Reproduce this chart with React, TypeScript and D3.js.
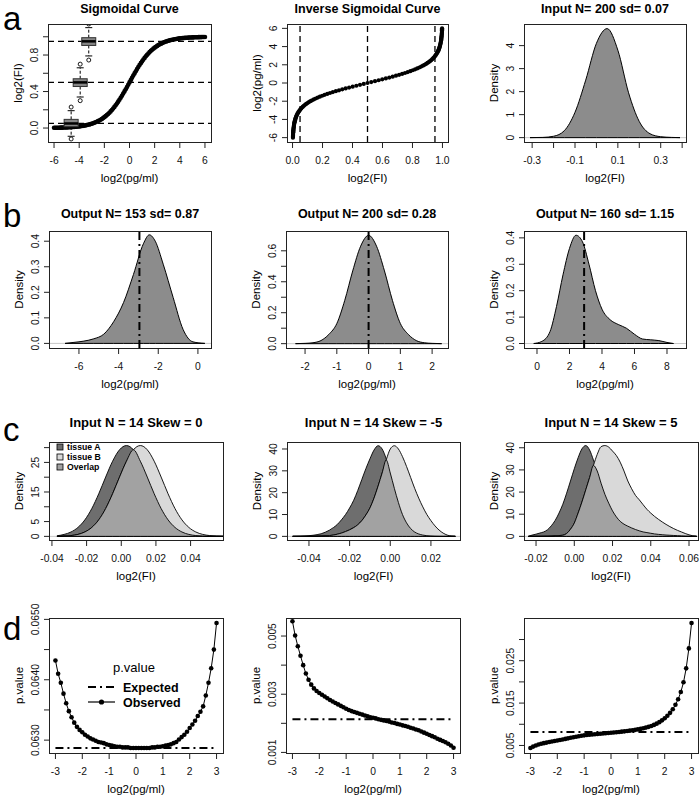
import React from "react";
import * as d3 from "d3";

const FONT = "'Liberation Sans', Arial, Helvetica, sans-serif";

// ---------- a: sigmoid standard curve ----------
const sigLog2 = d3.range(-60, 61).map((i) => i / 10);
const sigFI = [
  0.00247, 0.00273, 0.00302, 0.00334, 0.00368, 0.00407, 0.0045, 0.00497, 0.00549, 0.00606,
  0.00669, 0.00739, 0.00816, 0.00901, 0.00995, 0.01099, 0.01213, 0.01339, 0.01477, 0.0163,
  0.01799, 0.01984, 0.02188, 0.02413, 0.0266, 0.02931, 0.0323, 0.03557, 0.03917, 0.04311,
  0.04743, 0.05216, 0.05732, 0.06297, 0.06914, 0.07586, 0.08317, 0.09113, 0.09975, 0.1091,
  0.1192, 0.13011, 0.14185, 0.15447, 0.16798, 0.18243, 0.19782, 0.21417, 0.23148, 0.24974,
  0.26894, 0.28905, 0.31003, 0.33181, 0.35434, 0.37754, 0.40131, 0.42556, 0.45017, 0.47502,
  0.5,
  0.52498, 0.54983, 0.57444, 0.59869, 0.62246, 0.64566, 0.66819, 0.68997, 0.71095, 0.73106,
  0.75026, 0.76852, 0.78583, 0.80218, 0.81757, 0.83202, 0.84553, 0.85815, 0.86989, 0.8808,
  0.8909, 0.90025, 0.90887, 0.91683, 0.92414, 0.93086, 0.93703, 0.94268, 0.94784, 0.95257,
  0.95689, 0.96083, 0.96443, 0.9677, 0.97069, 0.9734, 0.97587, 0.97812, 0.98016, 0.98201,
  0.9837, 0.98523, 0.98661, 0.98787, 0.98901, 0.99005, 0.99099, 0.99184, 0.99261, 0.99331,
  0.99394, 0.99451, 0.99503, 0.9955, 0.99593, 0.99632, 0.99666, 0.99698, 0.99727, 0.99753,
];
const refFI = [0.05, 0.5, 0.95];

// boxplots drawn on the sigmoid panel
const boxX = [-4.64, -3.92, -3.24];
const boxQ1 = [0.015, 0.455, 0.905];
const boxMed = [0.05, 0.5, 0.95];
const boxQ3 = [0.095, 0.54, 0.99];
const whiskLo = [-0.09, 0.34, 0.79];
const whiskHi = [0.19, 0.66, 1.1];
const outLo = [-0.12, 0.3, 0.745];
const outHi = [0.23, 0.7, 1.14];

// input density
const a3X = [-0.31, -0.25, -0.2, -0.15, -0.1, -0.05, 0, 0.05, 0.1, 0.15, 0.2, 0.25, 0.3, 0.35, 0.39];
const a3Y = [0, 0.01, 0.06, 0.3, 1.1, 2.5, 4.1, 4.74, 3.8, 1.95, 0.7, 0.17, 0.04, 0.01, 0];

// ---------- b: output densities ----------
const b1X = [-6.7, -6.25, -5.75, -5.25, -4.75, -4.25, -3.75, -3.25, -2.75, -2.45, -2.15, -1.75, -1.25, -0.75, -0.25, 0.35];
const b1Y = [0, 0.004, 0.009, 0.018, 0.036, 0.085, 0.16, 0.27, 0.39, 0.425, 0.4, 0.31, 0.18, 0.055, 0.006, 0];
const b1Mark = -2.95;

const b2X = [-2.3, -2.0, -1.75, -1.5, -1.25, -1.0, -0.75, -0.5, -0.25, 0, 0.25, 0.5, 0.75, 1.0, 1.25, 1.5, 1.75, 2.0, 2.3];
const b2Y = [0, 0.002, 0.006, 0.02, 0.06, 0.13, 0.28, 0.47, 0.63, 0.7, 0.63, 0.47, 0.28, 0.13, 0.06, 0.02, 0.006, 0.002, 0];
const b2Mark = 0;

const b3X = [-0.2, 0.3, 0.8, 1.2, 1.6, 2.0, 2.4, 2.8, 3.2, 3.6, 4.0, 4.5, 5.0, 5.5, 6.0, 6.5, 7.0, 7.5, 8.0, 8.4];
const b3Y = [0, 0.008, 0.045, 0.14, 0.26, 0.36, 0.41, 0.385, 0.3, 0.2, 0.13, 0.09, 0.072, 0.058, 0.035, 0.017, 0.014, 0.011, 0.004, 0];
const b3Mark = 2.9;

// ---------- c: tissue A / B densities ----------
const c1X = d3.range(0, 25).map((i) => -0.037 + 0.004 * i);
const c1A = [0.2, 0.66, 1.48, 3.02, 5.58, 9.4, 14.4, 20.05, 25.4, 29.28, 30.7, 29.28, 25.4, 20.05, 14.4, 9.4, 5.58, 3.02, 1.48, 0.66, 0.27, 0.1, 0.03, 0.01, 0];
const c1B = [0.03, 0.1, 0.27, 0.66, 1.48, 3.02, 5.58, 9.4, 14.4, 20.05, 25.4, 29.28, 30.7, 29.28, 25.4, 20.05, 14.4, 9.4, 5.58, 3.02, 1.48, 0.66, 0.27, 0.1, 0.03];

const c2X = d3.range(0, 41).map((i) => -0.048 + 0.002 * i);
const c2A = [0.02, 0.05, 0.1, 0.2, 0.32, 0.5, 0.8, 1.2, 1.9, 2.8, 4.0, 5.5, 7.6, 10.0, 13.0, 16.5, 21.0, 26.0, 31.0, 35.5, 39.5, 41.5, 40.0, 35.5, 29.0, 22.0, 15.5, 10.0, 6.2, 3.6, 2.0, 1.1, 0.6, 0.3, 0.15, 0.05, 0.02, 0.01, 0, 0, 0];
const c2B = [0, 0, 0, 0.01, 0.02, 0.05, 0.09, 0.14, 0.2, 0.35, 0.6, 1.0, 1.5, 2.2, 3.0, 4.0, 5.3, 7.2, 9.8, 13.0, 17.5, 23.0, 29.0, 35.0, 40.0, 41.5, 40.0, 36.5, 32.0, 27.0, 22.0, 17.5, 13.5, 10.0, 7.2, 4.8, 2.9, 1.5, 0.6, 0.15, 0];

const c3X = d3.range(0, 45).map((i) => -0.024 + 0.002 * i);
const c3A = [0, 0.6, 1.0, 1.5, 2.0, 3.0, 4.8, 7.2, 10.5, 14.5, 19.5, 25.0, 30.5, 35.5, 39.5, 41.0, 39.0, 34.5, 29.5, 24.0, 19.0, 15.0, 11.5, 8.8, 6.8, 5.5, 4.6, 3.8, 3.1, 2.5, 2.0, 1.7, 1.4, 1.1, 0.9, 0.75, 0.6, 0.5, 0.4, 0.3, 0.2, 0.1, 0.05, 0, 0];
const c3B = [0, 0, 0, 0, 0.02, 0.05, 0.1, 0.2, 0.35, 0.5, 1.3, 3.2, 6.0, 10.5, 15.5, 21.0, 26.5, 32.0, 37.0, 40.5, 41.0, 40.3, 38.5, 36.5, 33.5, 29.5, 25.0, 21.5, 18.5, 16.5, 14.3, 12.2, 10.5, 9.0, 7.7, 6.5, 5.4, 4.4, 3.5, 2.7, 2.0, 1.3, 0.7, 0.25, 0];

const legendLabels = ["tissue A", "tissue B", "Overlap"];
const legendFills = ["#6e6e6e", "#d9d9d9", "#a2a2a2"];

// ---------- d: p-values ----------
const dX = d3.range(-30, 31).map((i) => i / 10);
const d1P = [
  0.06432, 0.0641, 0.06395, 0.06377, 0.06361, 0.06348, 0.06338, 0.06329, 0.06322, 0.06317,
  0.06313, 0.06309, 0.06306, 0.06303, 0.06301, 0.06299, 0.06297, 0.06296, 0.06295, 0.06293,
  0.06292, 0.06291, 0.0629, 0.06289, 0.06289, 0.06288, 0.06288, 0.06288, 0.06287, 0.06287,
  0.06287,
  0.06287, 0.06287, 0.06287, 0.06287, 0.06287, 0.06288, 0.06288, 0.06289, 0.06289, 0.0629,
  0.06291, 0.06292, 0.06293, 0.06295, 0.06297, 0.06301, 0.06305, 0.06309, 0.06314, 0.0632,
  0.06326, 0.06332, 0.0634, 0.06347, 0.06356, 0.06374, 0.06395, 0.06419, 0.0645, 0.06494,
];
const d2P = [
  0.00551, 0.00502, 0.00465, 0.00432, 0.004, 0.00371, 0.0035, 0.00333, 0.0032, 0.00311,
  0.00304, 0.00298, 0.00292, 0.00286, 0.0028, 0.00275, 0.0027, 0.00265, 0.0026, 0.00255,
  0.0025, 0.00246, 0.00242, 0.00239, 0.00236, 0.00233, 0.0023, 0.00227, 0.00224, 0.00221,
  0.00219,
  0.00217, 0.00214, 0.00212, 0.0021, 0.00208, 0.00206, 0.00203, 0.00201, 0.00198, 0.00196,
  0.00193, 0.00191, 0.00188, 0.00185, 0.00182, 0.00179, 0.00176, 0.00172, 0.00168, 0.00164,
  0.0016, 0.00156, 0.00152, 0.00147, 0.00143, 0.00139, 0.00135, 0.0013, 0.00124, 0.00116,
];
const d3P = [
  0.0044, 0.00473, 0.005, 0.00522, 0.0054, 0.00555, 0.00568, 0.0058, 0.00592, 0.00604,
  0.00616, 0.00629, 0.00642, 0.00655, 0.00668, 0.00681, 0.00693, 0.00705, 0.00717, 0.00728,
  0.00738, 0.00746, 0.00753, 0.00759, 0.00765, 0.00771, 0.00777, 0.00783, 0.00789, 0.00795,
  0.00801,
  0.00807, 0.00813, 0.00819, 0.00826, 0.00833, 0.00841, 0.00849, 0.00858, 0.00868, 0.00879,
  0.00891, 0.00905, 0.00921, 0.00939, 0.0096, 0.00985, 0.01015, 0.0105, 0.01092, 0.01142,
  0.012, 0.0127, 0.01355, 0.0146, 0.0159, 0.0176, 0.0199, 0.0232, 0.0279, 0.0339,
];
const expRange = [-3, 3];
const d1Exp = 0.06287;
const d2Exp = 0.00214;
const d3Exp = 0.00818;

// ---------- helpers ----------
type Scale = d3.ScaleLinear<number, number>;
const fix = (n: number) => (v: number) => (Math.abs(v) < 1e-12 ? 0 : v).toFixed(n);
const has = (arr: number[], v: number) => arr.some((a) => Math.abs(a - v) < 1e-9);
const DASHDOT = "8,4,2,4";

interface PanelProps {
  id: string;
  box: number[];
  xDomain: number[];
  yDomain: number[];
  xTicks: number[];
  xLabels?: number[];
  yTicks: number[];
  yLabels?: number[];
  xFmt: (v: number) => string;
  yFmt: (v: number) => string;
  title?: string;
  titleSize?: number;
  titleGap?: number;
  xTitle: string;
  yTitle: string;
  children: (x: Scale, y: Scale) => React.ReactNode;
}

function Panel(p: PanelProps) {
  const [l, t, r, b] = p.box;
  const x = d3.scaleLinear().domain(p.xDomain).range([l, r]);
  const y = d3.scaleLinear().domain(p.yDomain).range([b, t]);
  const xl = p.xLabels ?? p.xTicks;
  const yl = p.yLabels ?? p.yTicks;
  const xt0 = x(p.xTicks[0]);
  const xt1 = x(p.xTicks[p.xTicks.length - 1]);
  const yt0 = y(p.yTicks[0]);
  const yt1 = y(p.yTicks[p.yTicks.length - 1]);
  return (
    <g>
      <clipPath id={p.id}>
        <rect x={l} y={t} width={r - l} height={b - t} />
      </clipPath>
      <g clipPath={`url(#${p.id})`}>{p.children(x, y)}</g>
      <rect x={l + 0.5} y={t + 0.5} width={r - l} height={b - t} fill="none" stroke="#222" />
      <g stroke="#222">
        <line x1={xt0} x2={xt1} y1={b + 0.5} y2={b + 0.5} />
        {p.xTicks.map((v) => (
          <line key={v} x1={x(v)} x2={x(v)} y1={b} y2={b + 6} />
        ))}
        <line x1={l + 0.5} x2={l + 0.5} y1={yt0} y2={yt1} />
        {p.yTicks.map((v) => (
          <line key={v} x1={l - 5} x2={l} y1={y(v)} y2={y(v)} />
        ))}
      </g>
      <g fontSize={10.3} fill="#111">
        {p.xTicks.filter((v) => has(xl, v)).map((v) => (
          <text key={v} x={x(v)} y={b + 22} textAnchor="middle">
            {p.xFmt(v)}
          </text>
        ))}
        {p.yTicks.filter((v) => has(yl, v)).map((v) => (
          <text key={v} transform={`translate(${l - 10},${y(v)}) rotate(-90)`} textAnchor="middle">
            {p.yFmt(v)}
          </text>
        ))}
      </g>
      {p.title && (
        <text x={(l + r) / 2} y={t - (p.titleGap ?? 11)} textAnchor="middle" fontWeight="bold" fontSize={p.titleSize ?? 12.5}>
          {p.title}
        </text>
      )}
      <text x={(l + r) / 2} y={b + 40} textAnchor="middle" fontSize={11.5}>
        {p.xTitle}
      </text>
      <text transform={`translate(${l - 26},${(t + b) / 2}) rotate(-90)`} textAnchor="middle" fontSize={11.5}>
        {p.yTitle}
      </text>
    </g>
  );
}

function densityArea(xs: number[], ys: number[], x: Scale, y: Scale) {
  return (
    d3
      .area<number>()
      .x((_, i) => x(xs[i]))
      .y0(y(0))
      .y1((d) => y(d))
      .curve(d3.curveMonotoneX)(ys) || ""
  );
}

function ZeroLine({ x, y }: { x: Scale; y: Scale }) {
  const [x0, x1] = x.range();
  return <line x1={x0} x2={x1} y1={y(0)} y2={y(0)} stroke="#c8c8c8" strokeWidth={1} />;
}

function Density(props: { xs: number[]; ys: number[]; mark?: number; x: Scale; y: Scale }) {
  const { xs, ys, mark, x, y } = props;
  return (
    <g>
      <ZeroLine x={x} y={y} />
      <path d={densityArea(xs, ys, x, y)} fill="#8c8c8c" stroke="#000" strokeWidth={1} />
      {mark !== undefined && (
        <line x1={x(mark)} x2={x(mark)} y1={y.range()[0]} y2={y.range()[1]} stroke="#000" strokeWidth={2} strokeDasharray={DASHDOT} />
      )}
    </g>
  );
}

function TwoTissue(props: { xs: number[]; a: number[]; b: number[]; x: Scale; y: Scale }) {
  const { xs, a, b, x, y } = props;
  const overlap = a.map((v, i) => Math.min(v, b[i]));
  return (
    <g stroke="#000" strokeWidth={0.9}>
      <ZeroLine x={x} y={y} />
      <path d={densityArea(xs, a, x, y)} fill={legendFills[0]} />
      <path d={densityArea(xs, b, x, y)} fill={legendFills[1]} />
      <path d={densityArea(xs, overlap, x, y)} fill={legendFills[2]} />
    </g>
  );
}

function PValues(props: { xs: number[]; ps: number[]; expected: number; x: Scale; y: Scale }) {
  const { xs, ps, expected, x, y } = props;
  const line = d3
    .line<number>()
    .x((_, i) => x(xs[i]))
    .y((d) => y(d));
  return (
    <g>
      <line x1={x(expRange[0])} x2={x(expRange[1])} y1={y(expected)} y2={y(expected)} stroke="#000" strokeWidth={2} strokeDasharray={DASHDOT} />
      <path d={line(ps) || ""} fill="none" stroke="#000" strokeWidth={1} />
      {ps.map((v, i) => (
        <circle key={i} cx={x(xs[i])} cy={y(v)} r={2.3} fill="#000" />
      ))}
    </g>
  );
}

const int = fix(0);

export default function App() {
  return (
    <svg width={700} height={800} style={{ position: "absolute", left: 0, top: 0 }} fontFamily={FONT}>
      <rect width={700} height={800} fill="#fff" />

      {/* ---- row a ---- */}
      <Panel
        id="a1"
        box={[48, 24, 211, 142]}
        xDomain={[-6.48, 6.48]}
        yDomain={[-0.153, 1.14]}
        xTicks={[-6, -4, -2, 0, 2, 4, 6]}
        yTicks={[0, 0.2, 0.4, 0.6, 0.8, 1.0]}
        yLabels={[0, 0.4, 0.8]}
        xFmt={int}
        yFmt={fix(1)}
        title="Sigmoidal Curve"
        xTitle="log2(pg/ml)"
        yTitle="log2(FI)"
      >
        {(x, y) => (
          <g>
            {refFI.map((v) => (
              <line key={v} x1={x.range()[0]} x2={x.range()[1]} y1={y(v)} y2={y(v)} stroke="#000" strokeWidth={1.3} strokeDasharray="6,4" />
            ))}
            {sigLog2.map((v, i) => (
              <circle key={i} cx={x(v)} cy={y(sigFI[i])} r={2.3} fill="#000" />
            ))}
            {boxX.map((bx, i) => {
              const cx = x(bx);
              return (
                <g key={i} stroke="#000">
                  <line x1={cx} x2={cx} y1={y(boxQ3[i])} y2={y(whiskHi[i])} strokeDasharray="3,2" />
                  <line x1={cx} x2={cx} y1={y(boxQ1[i])} y2={y(whiskLo[i])} strokeDasharray="3,2" />
                  <line x1={cx - 3.5} x2={cx + 3.5} y1={y(whiskHi[i])} y2={y(whiskHi[i])} />
                  <line x1={cx - 3.5} x2={cx + 3.5} y1={y(whiskLo[i])} y2={y(whiskLo[i])} />
                  <rect x={cx - 7} y={y(boxQ3[i])} width={14} height={y(boxQ1[i]) - y(boxQ3[i])} fill="#858585" stroke="#333" />
                  <line x1={cx - 7} x2={cx + 7} y1={y(boxMed[i])} y2={y(boxMed[i])} strokeWidth={2.5} />
                  <circle cx={cx} cy={y(outHi[i])} r={2} fill="none" strokeWidth={0.9} />
                  <circle cx={cx} cy={y(outLo[i])} r={2} fill="none" strokeWidth={0.9} />
                </g>
              );
            })}
          </g>
        )}
      </Panel>

      <Panel
        id="a2"
        box={[287, 24, 448, 142]}
        xDomain={[-0.037, 1.037]}
        yDomain={[-6.48, 6.48]}
        xTicks={[0, 0.2, 0.4, 0.6, 0.8, 1.0]}
        yTicks={[-6, -4, -2, 0, 2, 4, 6]}
        xFmt={fix(1)}
        yFmt={int}
        title="Inverse Sigmoidal Curve"
        xTitle="log2(FI)"
        yTitle="log2(pg/ml)"
      >
        {(x, y) => (
          <g>
            {refFI.map((v) => (
              <line key={v} x1={x(v)} x2={x(v)} y1={y.range()[0]} y2={y.range()[1]} stroke="#000" strokeWidth={1.3} strokeDasharray="6,4" />
            ))}
            {sigLog2.map((v, i) => (
              <circle key={i} cx={x(sigFI[i])} cy={y(v)} r={2.1} fill="#000" />
            ))}
          </g>
        )}
      </Panel>

      <Panel
        id="a3"
        box={[524, 24, 686, 142]}
        xDomain={[-0.338, 0.418]}
        yDomain={[-0.19, 4.94]}
        xTicks={[-0.3, -0.2, -0.1, 0, 0.1, 0.2, 0.3, 0.4]}
        xLabels={[-0.3, -0.1, 0.1, 0.3]}
        yTicks={[0, 1, 2, 3, 4]}
        xFmt={fix(1)}
        yFmt={int}
        title="Input N= 200  sd= 0.07"
        xTitle="log2(FI)"
        yTitle="Density"
      >
        {(x, y) => <Density xs={a3X} ys={a3Y} x={x} y={y} />}
      </Panel>

      {/* ---- row b ---- */}
      <Panel
        id="b1"
        box={[49, 231, 211, 348]}
        xDomain={[-7.51, 0.66]}
        yDomain={[-0.018, 0.44]}
        xTicks={[-6, -4, -2, 0]}
        yTicks={[0, 0.1, 0.2, 0.3, 0.4]}
        xFmt={int}
        yFmt={fix(1)}
        title="Output N= 153  sd= 0.87"
        titleGap={13}
        xTitle="log2(pg/ml)"
        yTitle="Density"
      >
        {(x, y) => <Density xs={b1X} ys={b1Y} mark={b1Mark} x={x} y={y} />}
      </Panel>

      <Panel
        id="b2"
        box={[286, 231, 448, 348]}
        xDomain={[-2.6, 2.5]}
        yDomain={[-0.028, 0.728]}
        xTicks={[-2, -1, 0, 1, 2]}
        yTicks={[0, 0.1, 0.2, 0.3, 0.4, 0.5, 0.6]}
        yLabels={[0, 0.2, 0.4, 0.6]}
        xFmt={int}
        yFmt={fix(1)}
        title="Output N= 200  sd= 0.28"
        titleGap={13}
        xTitle="log2(pg/ml)"
        yTitle="Density"
      >
        {(x, y) => <Density xs={b2X} ys={b2Y} mark={b2Mark} x={x} y={y} />}
      </Panel>

      <Panel
        id="b3"
        box={[524, 231, 686, 348]}
        xDomain={[-0.8, 9.17]}
        yDomain={[-0.017, 0.426]}
        xTicks={[0, 2, 4, 6, 8]}
        yTicks={[0, 0.1, 0.2, 0.3, 0.4]}
        xFmt={int}
        yFmt={fix(1)}
        title="Output N= 160  sd= 1.15"
        titleGap={13}
        xTitle="log2(pg/ml)"
        yTitle="Density"
      >
        {(x, y) => <Density xs={b3X} ys={b3Y} mark={b3Mark} x={x} y={y} />}
      </Panel>

      {/* ---- row c ---- */}
      <Panel
        id="c1"
        box={[49, 442, 223, 540]}
        xDomain={[-0.0417, 0.0587]}
        yDomain={[-1.23, 31.9]}
        xTicks={[-0.04, -0.02, 0, 0.02, 0.04]}
        yTicks={[0, 5, 10, 15, 20, 25, 30]}
        yLabels={[0, 5, 15, 25]}
        xFmt={fix(2)}
        yFmt={int}
        title="Input  N = 14 Skew = 0"
        titleSize={13}
        titleGap={15}
        xTitle="log2(FI)"
        yTitle="Density"
      >
        {(x, y) => (
          <g>
            <TwoTissue xs={c1X} a={c1A} b={c1B} x={x} y={y} />
            {legendLabels.map((lab, i) => (
              <g key={lab}>
                <rect x={57} y={444 + i * 10} width={6} height={6} fill={legendFills[i]} stroke="#000" strokeWidth={0.8} />
                <text x={67} y={450 + i * 10} fontSize={8.7} fontWeight="bold">
                  {lab}
                </text>
              </g>
            ))}
          </g>
        )}
      </Panel>

      <Panel
        id="c2"
        box={[287, 442, 460, 540]}
        xDomain={[-0.0508, 0.0343]}
        yDomain={[-1.66, 43.2]}
        xTicks={[-0.04, -0.02, 0, 0.02]}
        yTicks={[0, 10, 20, 30, 40]}
        xFmt={fix(2)}
        yFmt={int}
        title="Input  N = 14 Skew = -5"
        titleSize={13}
        titleGap={15}
        xTitle="log2(FI)"
        yTitle="Density"
      >
        {(x, y) => <TwoTissue xs={c2X} a={c2A} b={c2B} x={x} y={y} />}
      </Panel>

      <Panel
        id="c3"
        box={[524, 442, 698, 540]}
        xDomain={[-0.0263, 0.0647]}
        yDomain={[-1.64, 42.6]}
        xTicks={[-0.02, 0, 0.02, 0.04, 0.06]}
        yTicks={[0, 10, 20, 30, 40]}
        xFmt={fix(2)}
        yFmt={int}
        title="Input  N = 14 Skew = 5"
        titleSize={13}
        titleGap={15}
        xTitle="log2(FI)"
        yTitle="Density"
      >
        {(x, y) => <TwoTissue xs={c3X} a={c3A} b={c3B} x={x} y={y} />}
      </Panel>

      {/* ---- row d ---- */}
      <Panel
        id="d1"
        box={[49, 618, 223, 753]}
        xDomain={[-3.24, 3.24]}
        yDomain={[0.062787, 0.065023]}
        xTicks={[-3, -2, -1, 0, 1, 2, 3]}
        yTicks={[0.063, 0.0635, 0.064, 0.0645, 0.065]}
        yLabels={[0.063, 0.064, 0.065]}
        xFmt={int}
        yFmt={fix(4)}
        xTitle="log2(pg/ml)"
        yTitle="p.value"
      >
        {(x, y) => <PValues xs={dX} ps={d1P} expected={d1Exp} x={x} y={y} />}
      </Panel>
      <g>
        <text x={134} y={672} textAnchor="middle" fontSize={13}>
          p.value
        </text>
        <line x1={88} x2={115} y1={687} y2={687} stroke="#000" strokeWidth={2} strokeDasharray={DASHDOT} />
        <line x1={88} x2={115} y1={702} y2={702} stroke="#000" strokeWidth={1.2} />
        <circle cx={101.5} cy={702} r={2.6} fill="#000" />
        <text x={123} y={691.5} fontSize={12.5} fontWeight="bold">
          Expected
        </text>
        <text x={123} y={706.5} fontSize={12.5} fontWeight="bold">
          Observed
        </text>
      </g>

      <Panel
        id="d2"
        box={[286, 618, 460, 753]}
        xDomain={[-3.24, 3.24]}
        yDomain={[0.00098, 0.00562]}
        xTicks={[-3, -2, -1, 0, 1, 2, 3]}
        yTicks={[0.001, 0.002, 0.003, 0.004, 0.005]}
        yLabels={[0.001, 0.003, 0.005]}
        xFmt={int}
        yFmt={fix(3)}
        xTitle="log2(pg/ml)"
        yTitle="p.value"
      >
        {(x, y) => <PValues xs={dX} ps={d2P} expected={d2Exp} x={x} y={y} />}
      </Panel>

      <Panel
        id="d3"
        box={[524, 618, 698, 753]}
        xDomain={[-3.24, 3.24]}
        yDomain={[0.00322, 0.03508]}
        xTicks={[-3, -2, -1, 0, 1, 2, 3]}
        yTicks={[0.005, 0.01, 0.015, 0.02, 0.025, 0.03]}
        yLabels={[0.005, 0.015, 0.025]}
        xFmt={int}
        yFmt={fix(3)}
        xTitle="log2(pg/ml)"
        yTitle="p.value"
      >
        {(x, y) => <PValues xs={dX} ps={d3P} expected={d3Exp} x={x} y={y} />}
      </Panel>

      {/* panel letters */}
      <g fontSize={33} fill="#000">
        <text x={3} y={30}>a</text>
        <text x={3} y={227}>b</text>
        <text x={3} y={441}>c</text>
        <text x={3} y={640}>d</text>
      </g>
    </svg>
  );
}
